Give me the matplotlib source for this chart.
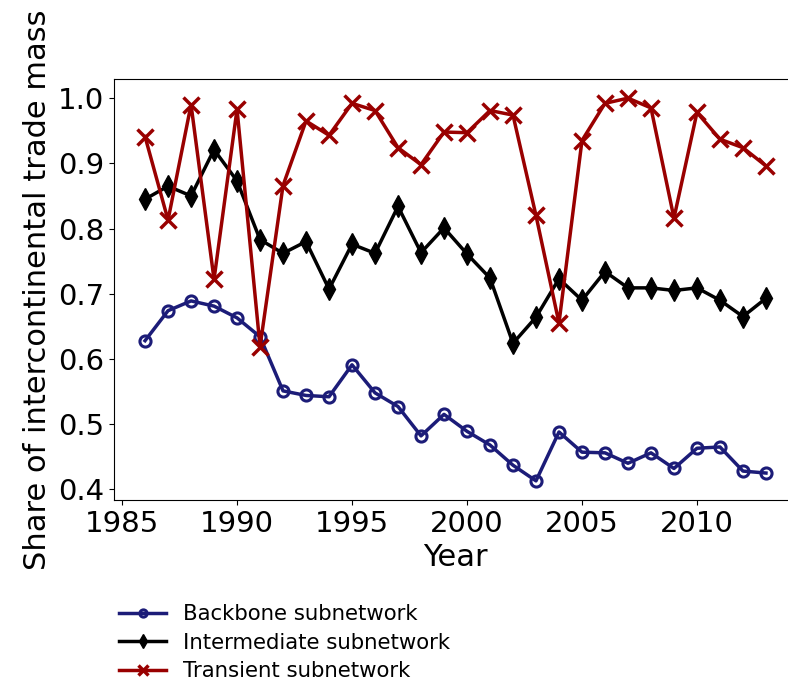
import matplotlib
matplotlib.use("Agg")
import matplotlib.pyplot as plt

# years and shares
years = list(range(1986, 2014))

backbone = [0.628, 0.674, 0.689, 0.681, 0.663, 0.634, 0.551, 0.544, 0.542, 0.591,
            0.548, 0.527, 0.482, 0.515, 0.489, 0.468, 0.437, 0.413, 0.488, 0.457,
            0.456, 0.440, 0.456, 0.432, 0.463, 0.465, 0.428, 0.425]

intermediate = [0.845, 0.865, 0.850, 0.921, 0.873, 0.783, 0.762, 0.780, 0.707, 0.776,
                0.762, 0.834, 0.763, 0.801, 0.761, 0.724, 0.624, 0.664, 0.723, 0.690,
                0.734, 0.709, 0.709, 0.705, 0.709, 0.690, 0.665, 0.693]

transient = [0.941, 0.813, 0.990, 0.722, 0.983, 0.619, 0.866, 0.965, 0.943, 0.992,
             0.981, 0.924, 0.898, 0.948, 0.947, 0.981, 0.974, 0.820, 0.655, 0.935,
             0.992, 1.000, 0.985, 0.816, 0.978, 0.937, 0.924, 0.896]

fig = plt.figure(figsize=(7.88, 6.82), dpi=100)
ax = fig.add_axes([114 / 788, 1 - 500 / 682, (797 - 114) / 788, (500 - 79) / 682])

ax.plot(years, backbone, color='#1c1c78', lw=2.5, marker='o', ms=8,
        mfc='none', mew=2.2, label='Backbone subnetwork')
ax.plot(years, intermediate, color='black', lw=2.5, marker='d', ms=11,
        label='Intermediate subnetwork')
ax.plot(years, transient, color='#990000', lw=2.5, marker='x', ms=11,
        mew=2.5, label='Transient subnetwork')

ax.set_xticks([1985, 1990, 1995, 2000, 2005, 2010])
ax.set_yticks([0.4, 0.5, 0.6, 0.7, 0.8, 0.9, 1.0])
ax.tick_params(labelsize=21)
ax.set_xlabel('Year', fontsize=22, labelpad=4)
ax.set_ylabel('Share of intercontinental trade mass', fontsize=22)

fig.legend(loc='upper left', bbox_to_anchor=(100 / 788, 1 - 585 / 682),
           frameon=False, fontsize=15.3, handlelength=2.2, labelspacing=0.4,
           markerscale=0.65)

fig.savefig('out.png', dpi=100)
